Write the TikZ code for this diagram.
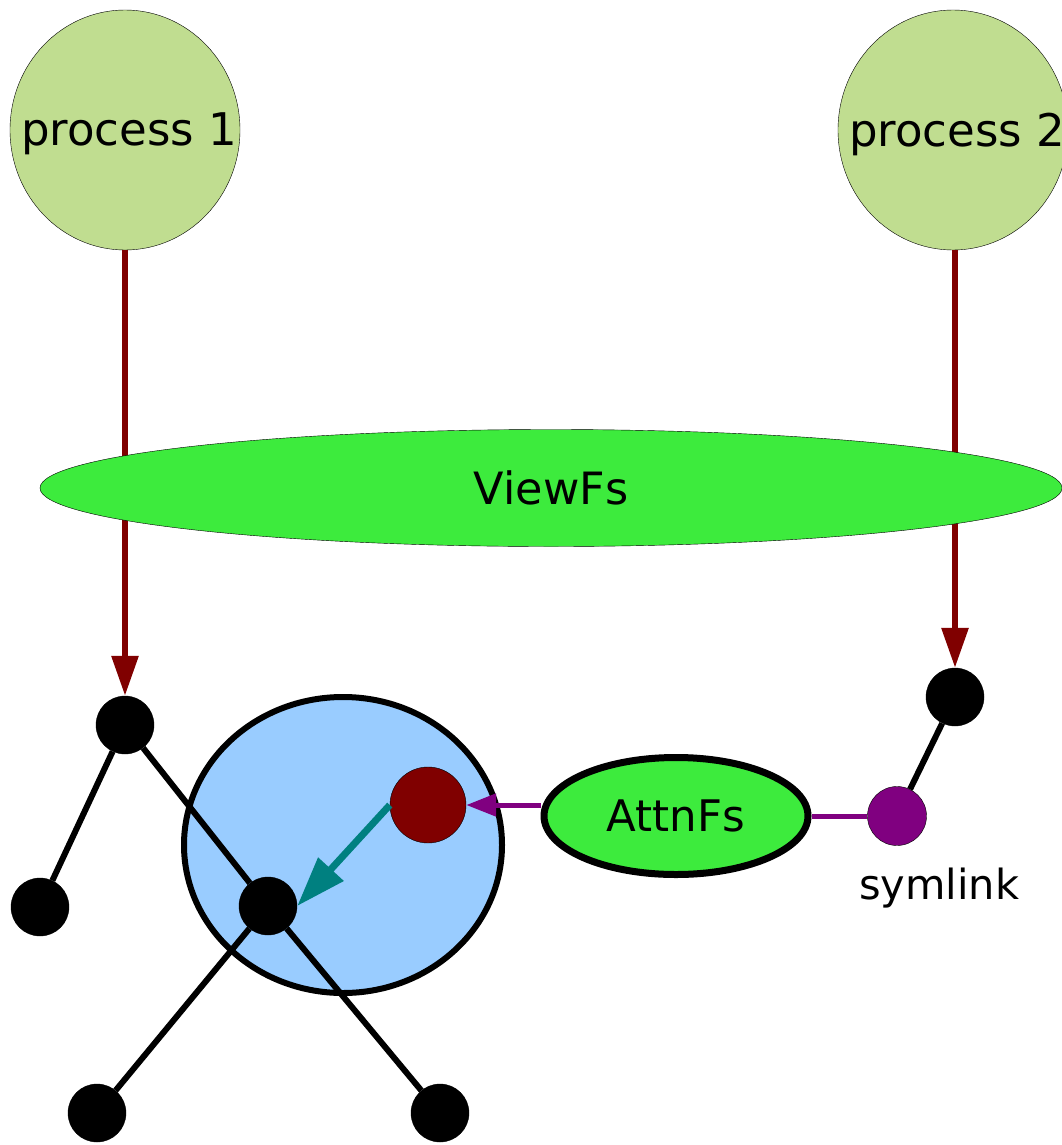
\documentclass[tikz,border=0pt]{standalone}
\usepackage{fontspec}
\setmainfont{DejaVu Sans}
\usetikzlibrary{shapes.geometric,arrows.meta}

\definecolor{procgreen}{HTML}{C0DD90}
\definecolor{fsgreen}{HTML}{3DEB3D}
\definecolor{dirblue}{HTML}{99CCFF}
\definecolor{darkred}{HTML}{800000}
\definecolor{lnkpurple}{HTML}{800080}
\definecolor{lnkteal}{HTML}{008080}

\begin{document}
\begin{tikzpicture}[x=1pt, y=-1pt,
		every node/.style={font=\fontsize{43.5}{50}\selectfont},
		process/.style={ellipse, draw=black, thin, fill=procgreen, minimum width=230pt, minimum height=240pt, inner sep=0pt},
		proclabel/.style={xshift=4pt, yshift=-4pt, font=\fontsize{45}{50}\selectfont},
		viewfs/.style={ellipse, draw=black, thin, fill=fsgreen, minimum width=1022pt, minimum height=117pt, inner sep=0pt, font=\fontsize{44.5}{50}\selectfont},
		attnfs/.style={ellipse, draw=black, line width=7pt, fill=fsgreen, minimum width=264pt, minimum height=117pt, inner sep=0pt},
		dirnode/.style={ellipse, draw=black, line width=6pt, fill=dirblue, minimum width=318pt, minimum height=296pt, inner sep=0pt},
		dot/.style={circle, draw=black, fill=black, minimum size=58pt, inner sep=0pt},
		target/.style={circle, draw=black, thin, fill=darkred, minimum size=76pt, inner sep=0pt},
		link/.style={circle, draw=black, thin, fill=lnkpurple, minimum size=59pt, inner sep=0pt}
	]
	\useasboundingbox (0,0) rectangle (1061,1145);
	\node[process, label={[proclabel]center:process 1}] (proc1) at (125,130) {};
	\node[process, label={[proclabel]center:process 2}] (proc2) at (953,130) {};
	\node[dirnode] (mountdir) at (343,845) {};
	\node[dot] (rootleft) at (125,725) {};
	\node[dot] (leafa) at (40,907) {};
	\node[dot] (mid) at (268,906) {};
	\node[dot] (leafb) at (97,1113) {};
	\node[dot] (leafc) at (440,1113) {};
	\node[dot] (rootright) at (955,697) {};
	\node[target] (attntarget) at (428,805) {};
	\node[link] (symlink) at (897,816) {};
	\node[font=\fontsize{41.5}{50}\selectfont] (symlinklabel) at (939,888) {symlink};
	\node[attnfs] (attn) at (676,816) {AttnFs};
	\begin{scope}[line width=6pt]
	\draw (rootleft) -- (leafa);
	\draw (rootleft) -- (mid);
	\draw (mid) -- (leafb);
	\draw (mid) -- (leafc);
	\draw (rootright) -- (symlink);
	\end{scope}
	\draw[line width=5pt, lnkpurple] (symlink.west) -- (attn.east);
	\draw[line width=5pt, lnkpurple, -{Triangle[length=30pt,width=22pt]}] (attn.west |- attntarget.east) -- (attntarget.east);
	\draw[line width=7pt, lnkteal, -{Triangle[length=50pt,width=33pt]}] (attntarget.west) -- (mid.east);
	\begin{scope}[line width=6pt, darkred, -{Triangle[length=40pt,width=26pt]}]
	\draw (proc1.south) -- (rootleft.north);
	\draw (rootright |- proc2.south) -- (rootright.north);
	\end{scope}
	\node[viewfs] (view) at (551,488) {ViewFs};
\end{tikzpicture}
\end{document}
